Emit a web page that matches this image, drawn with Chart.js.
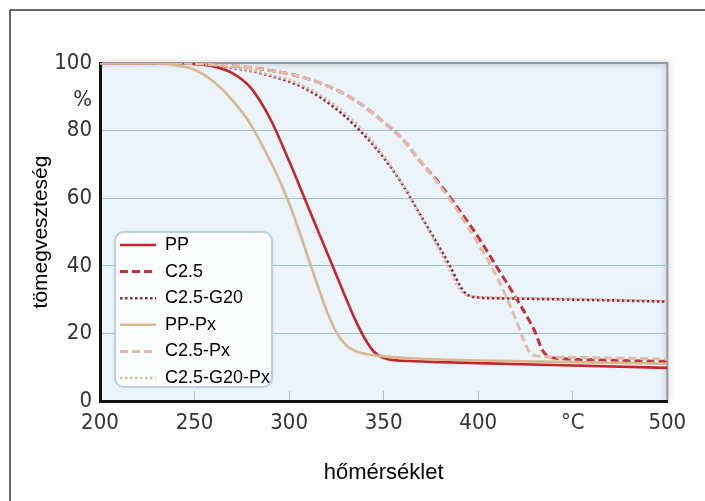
<!DOCTYPE html>
<html><head><meta charset="utf-8">
<script src="https://cdn.jsdelivr.net/npm/chart.js@4"></script>
<style>html,body{margin:0;padding:0;background:#fff}canvas{display:block}</style>
</head><body>
<canvas id="c" width="705" height="501"></canvas>
<script>
// ---- data ----
const seriesNames = ['PP', 'C2.5', 'C2.5-G20', 'PP-Px', 'C2.5-Px', 'C2.5-G20-Px'];

const ppTemp = [200, 240, 250, 260, 270, 280, 290, 300, 310, 320, 330, 335, 340, 345, 350, 355, 360, 380, 400, 450, 500];
const ppMass = [100, 100, 99.7, 99, 97, 92.5, 83.5, 71, 57.5, 44, 30.5, 24, 18.5, 14.5, 12.7, 12.1, 11.9, 11.5, 11.2, 10.5, 9.8];

const c25Temp = [200, 240, 260, 280, 300, 310, 320, 330, 340, 350, 360, 370, 380, 390, 400, 410, 420, 430, 434, 437, 445, 460, 500];
const c25Mass = [100, 100, 99.5, 98.6, 96.8, 95.3, 93.3, 90.6, 87, 82.5, 77.5, 70.5, 64, 56.5, 48.5, 39.5, 30.5, 20.5, 15, 13.2, 12.5, 12.2, 11.7];

const c25g20Temp = [200, 240, 260, 280, 290, 300, 310, 320, 330, 340, 350, 360, 370, 380, 385, 390, 393, 396, 400, 420, 450, 500];
const c25g20Mass = [100, 100, 99.3, 97.6, 96.2, 94.5, 92, 88.5, 84, 78.5, 72, 64, 54.5, 45, 40, 34.5, 32, 31, 30.6, 30.3, 30, 29.4];

const ppPxTemp = [200, 230, 240, 250, 260, 270, 280, 290, 295, 300, 305, 310, 315, 320, 325, 330, 335, 340, 350, 370, 400, 450, 500];
const ppPxMass = [100, 100, 99.4, 98, 94.5, 89, 81.5, 71, 65.2, 58.5, 50.8, 42.5, 34.3, 26.5, 20.3, 16.6, 14.8, 14, 13.2, 12.5, 12, 11.5, 11];

const c25PxTemp = [200, 240, 260, 280, 300, 310, 320, 330, 340, 350, 360, 370, 380, 390, 400, 410, 420, 424, 427, 431, 450, 500];
const c25PxMass = [100, 100, 99.5, 98.6, 96.8, 95.3, 93.3, 90.6, 87, 82.5, 77.5, 70.5, 63.5, 55.5, 46.5, 36.5, 24, 18, 14.6, 13.3, 12.9, 12.4];

const c25g20PxTemp = [200, 240, 260, 280, 290, 300, 310, 320, 330, 340, 350, 360, 370, 380, 385, 390, 393, 396, 400, 420, 450, 500];
const c25g20PxMass = [100, 100, 99.4, 97.8, 96.5, 95, 92.6, 89.3, 85, 79.5, 72.5, 64.2, 54.5, 44, 38.5, 33, 31.6, 31, 30.8, 30.5, 30.2, 29.6];

const xTickValues = [200, 250, 300, 350, 400, 450, 500];
const xTickLabels = ['200', '250', '300', '350', '400', '°C', '500'];
const yTickValues = [0, 20, 40, 60, 80, 100];
const yUnitLabel = '%';
const yUnitValue = 89;
const xTitle = 'hőmérséklet';
const yTitle = 'tömegveszteség';

// ---- build datasets ----
function pts(t, m) { return t.map((x, i) => ({ x: x, y: m[i] })); }
const styles = [
  { color: '#c4262d', dash: [], width: 2.6 },
  { color: '#c8303a', dash: [8, 4], width: 3 },
  { color: '#8e2a46', dash: [2.5, 2.5], width: 2.6 },
  { color: '#d8b98f', dash: [], width: 2.6 },
  { color: '#e2bca6', dash: [8, 4], width: 3 },
  { color: '#dcbe9e', dash: [2.5, 2.5], width: 2.6 }
];
const series = [
  pts(ppTemp, ppMass), pts(c25Temp, c25Mass), pts(c25g20Temp, c25g20Mass),
  pts(ppPxTemp, ppPxMass), pts(c25PxTemp, c25PxMass), pts(c25g20PxTemp, c25g20PxMass)
];
const drawOrder = [3, 4, 5, 0, 1, 2];
const datasets = seriesNames.map((n, i) => ({
  label: n,
  data: series[i],
  borderColor: styles[i].color,
  backgroundColor: styles[i].color,
  borderDash: styles[i].dash,
  borderWidth: styles[i].width,
  borderCapStyle: 'butt',
  pointRadius: 0,
  cubicInterpolationMode: 'monotone',
  fill: false,
  order: drawOrder[i]
}));

const LEG = { x: 115, y: 232, w: 157, h: 155 };

const decor = {
  id: 'decor',
  beforeLayout(chart) {
    const lg = chart.legend;
    if (lg && !lg._patched) {
      lg._patched = true;
      const of = lg.fit;
      lg.fit = function () { of.call(this); this._rw = this.width; this._rh = this.height; this.width = 0; this.height = 0; };
      const od = lg.draw;
      lg.draw = function () {
        const ctx = this.ctx;
        ctx.save();
        ctx.beginPath();
        ctx.roundRect(LEG.x, LEG.y, LEG.w, LEG.h, 9);
        ctx.shadowColor = 'rgba(120,150,170,0.35)';
        ctx.shadowBlur = 3;
        ctx.fillStyle = '#fbfdff';
        ctx.fill();
        ctx.shadowColor = 'transparent';
        ctx.lineWidth = 2;
        ctx.strokeStyle = '#bcd2de';
        ctx.stroke();
        ctx.restore();
        od.apply(this, arguments);
      };
    }
  },
  afterLayout(chart) {
    const lg = chart.legend;
    lg.left = 111.4; lg.top = 227.4;
    lg.width = lg._rw; lg.height = lg._rh;
    lg.right = lg.left + lg._rw; lg.bottom = lg.top + lg._rh;
  },
  beforeDraw(chart) {
    const { ctx, chartArea: a } = chart;
    ctx.save();
    ctx.fillStyle = '#ffffff';
    ctx.fillRect(0, 0, chart.width, chart.height);
    ctx.strokeStyle = '#3a3a3a';
    ctx.lineWidth = 1.5;
    ctx.strokeRect(10, 10, 800, 600);
    ctx.fillStyle = '#ebf4fa';
    ctx.fillRect(a.left, a.top, a.right - a.left, a.bottom - a.top);
    ctx.shadowColor = 'rgba(0,0,0,0.35)';
    ctx.shadowBlur = 6;
    ctx.strokeStyle = '#8e999f';
    ctx.lineWidth = 2;
    ctx.beginPath();
    ctx.moveTo(a.left, a.top);
    ctx.lineTo(a.right, a.top);
    ctx.lineTo(a.right, a.bottom);
    ctx.stroke();
    ctx.restore();
  }
};

const tickFont = { family: "'Liberation Sans Narrow', 'DejaVu Sans Condensed', sans-serif", size: 22 };

new Chart(document.getElementById('c'), {
  type: 'line',
  data: { datasets },
  plugins: [decor],
  options: {
    responsive: false,
    devicePixelRatio: 1,
    animation: false,
    layout: { padding: { top: 63, right: 23, left: 0, bottom: 0 } },
    plugins: {
      tooltip: { enabled: false },
      legend: {
        position: 'left',
        align: 'start',
        labels: {
          usePointStyle: true,
          pointStyle: 'line',
          pointStyleWidth: 36,
          boxHeight: 18,
          padding: 8.6,
          color: '#000',
          font: { family: "'Liberation Sans', Arial, sans-serif", size: 18 },
          sort: (a, b) => a.datasetIndex - b.datasetIndex,
          generateLabels(chart) {
            const items = Chart.defaults.plugins.legend.labels.generateLabels(chart);
            return items.map(it => {
              const ds = chart.data.datasets[it.datasetIndex];
              it.lineDash = ds.borderDash;
              it.lineWidth = ds.borderWidth;
              it.strokeStyle = ds.borderColor;
              it.fillStyle = ds.borderColor;
              it.lineCap = 'butt';
              return it;
            });
          }
        }
      }
    },
    scales: {
      x: {
        type: 'linear',
        min: 200, max: 500,
        afterFit(s) { s.height = 100; },
        afterBuildTicks(s) { s.ticks = xTickValues.map(v => ({ value: v })); },
        ticks: {
          padding: 18.8,
          color: '#333',
          font: tickFont,
          maxRotation: 0,
          callback: (v) => { const i = xTickValues.indexOf(v); return i >= 0 ? xTickLabels[i] : ''; }
        },
        grid: {
          drawOnChartArea: false,
          drawTicks: true,
          tickLength: -10,
          lineWidth: 1,
          color: (c) => (c.tick && (c.tick.value === 200 || c.tick.value === 500)) ? 'rgba(0,0,0,0)' : '#a9bec7'
        },
        border: { display: true, color: '#111', width: 3 },
        title: {
          display: true, text: xTitle, color: '#000',
          font: { family: "'Liberation Sans', Arial, sans-serif", size: 22 },
          padding: { top: 0, bottom: 15 }
        }
      },
      y: {
        type: 'linear',
        min: 0, max: 100,
        afterFit(s) { s.width = 100; },
        afterBuildTicks(s) {
          const v = yTickValues.concat([yUnitValue]).sort((a, b) => a - b);
          s.ticks = v.map(x => ({ value: x }));
        },
        ticks: {
          padding: 8,
          color: '#333',
          font: tickFont,
          callback: (v) => v === yUnitValue ? yUnitLabel : String(v)
        },
        grid: {
          drawTicks: false,
          lineWidth: 1,
          color: (c) => (c.tick && c.tick.value > 0 && c.tick.value < 100 && c.tick.value !== yUnitValue) ? '#9fc0ca' : 'rgba(0,0,0,0)'
        },
        border: { display: true, color: '#111', width: 3 },
        title: {
          display: true, text: yTitle, color: '#000',
          font: { family: "'Liberation Sans', Arial, sans-serif", size: 21 },
          padding: { top: 28.4, bottom: 0 }
        }
      }
    }
  }
});
</script>
</body></html>
